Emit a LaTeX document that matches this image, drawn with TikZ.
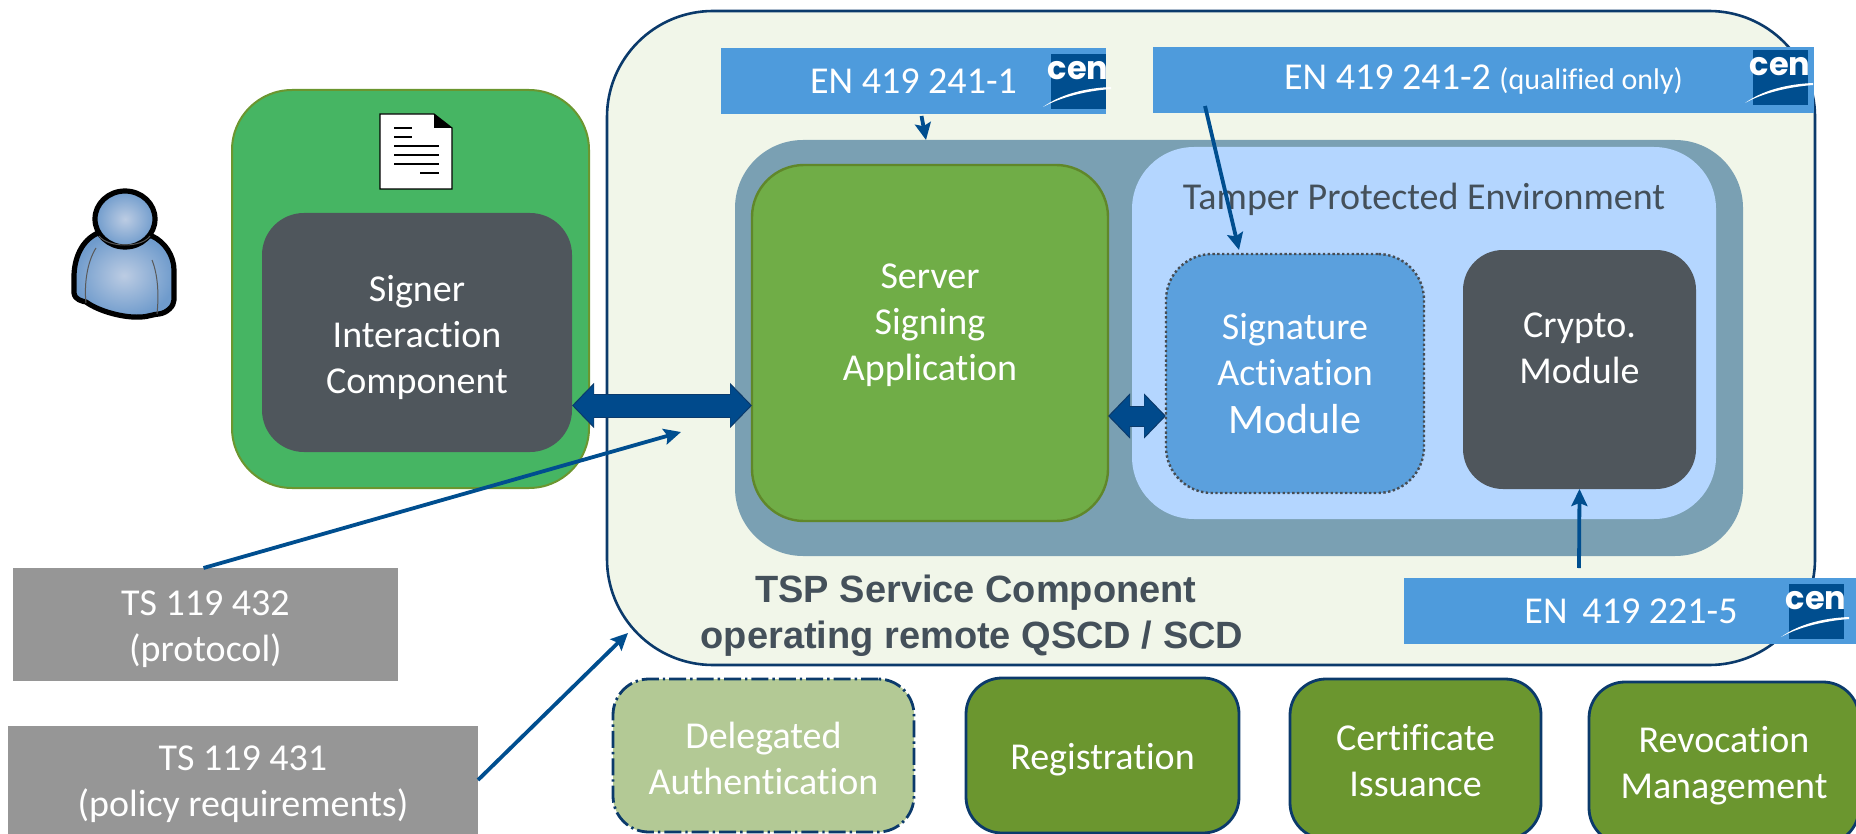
\documentclass[tikz,border=0pt]{standalone}
\usepackage{fontspec}
\setmainfont{Carlito}[RawFeature={-liga;-clig;-dlig}]
\newfontfamily\arialfont{Liberation Sans}
\newfontfamily\logofont{Poppins}
\usepackage{xcolor}
\usepackage{tikz}
\usetikzlibrary{shapes,arrows.meta,positioning}

\definecolor{navy}{HTML}{0B3A6B}
\definecolor{arrowblue}{HTML}{004E8F}
\definecolor{blockblue}{HTML}{004A8C}
\definecolor{cardblue}{HTML}{4E9BDC}
\definecolor{modblue}{HTML}{5BA0DD}
\definecolor{tampblue}{HTML}{B4D6FF}
\definecolor{slate}{HTML}{7AA0B3}
\definecolor{darkbox}{HTML}{4F565C}
\definecolor{labelgrey}{HTML}{44505A}
\definecolor{olive}{HTML}{6B962F}
\definecolor{paleolive}{HTML}{B3C995}
\definecolor{appgreen}{HTML}{70AD47}
\definecolor{sicgreen}{HTML}{46B563}
\definecolor{paper}{HTML}{F1F6E9}
\definecolor{specgrey}{HTML}{969696}
\definecolor{headin}{HTML}{BCCCE3}
\definecolor{headout}{HTML}{6F9BCC}

\begin{document}
\begin{tikzpicture}[
    x=0.5pt, y=-0.5pt,
    box/.style={rounded corners=#1, align=center, inner sep=0pt, outer sep=0pt, text=white,
        font=\fontsize{19}{23}\selectfont},
    box/.default=20pt,
    service/.style={box=18pt, draw=navy, line width=1.4pt, fill=olive},
    card/.style={align=center, inner sep=0pt, outer sep=0pt, fill=cardblue, text=white, minimum height=33pt,
        font=\fontsize{19}{23}\selectfont},
    spec/.style={align=center, inner sep=0pt, outer sep=0pt, fill=specgrey, text=white,
        font=\fontsize{19}{23}\selectfont},
    arrow/.style={-{Stealth[length=8.5pt,width=8pt,inset=1.5pt]}, line width=1.9pt, arrowblue},
    bigarrow/.style={{Triangle[length=10pt,width=20pt]}-{Triangle[length=10pt,width=20pt]}, blockblue,
        shorten <=0.8pt, shorten >=0.8pt, line width=#1,
        preaction={draw, navy, line width=#1+1pt, shorten <=0pt, shorten >=0pt,
            {Triangle[length=11pt,width=22pt]}-{Triangle[length=11pt,width=22pt]}}},
    cenlogo/.pic={
        \fill[arrowblue] (0,0) rectangle (55,55);
        \node[inner sep=0pt, text=white, font=\logofont\bfseries\fontsize{16}{16}\selectfont] (-text) at (27,17) {cen};
        \fill[white] (-8,53) .. controls (10,40) and (35,34) .. (60,33) -- (60,35) .. controls (35,37) and (10,43) .. (-8,53);
    },
]
    \path[use as bounding box, clip] (0,0) rectangle (1856,834);

    % Service component
    \node[box=53pt, draw=navy, line width=1.3pt, fill=paper, minimum width=604pt, minimum height=327pt] (tsp) at (1211,338) {};
    \node[align=center, inner sep=0pt, text=labelgrey, font=\arialfont\bfseries\fontsize{19}{23}\selectfont] (tsplabel) at (972,615.5) {\hspace*{4pt}TSP Service Component\\operating remote QSCD / SCD};

    % Inner panels
    \node[box=34pt, fill=slate, minimum width=504pt, minimum height=208pt] (panel) at (1239,348) {};
    \node[box=26pt, draw=olive!90!black, line width=1.2pt, fill=appgreen, minimum width=178pt, minimum height=178pt] (ssa) at (930,343) {\rule{0pt}{14.7pt}Server\\Signing\\Application\\~};
    \node[box=31pt, fill=tampblue, minimum width=292pt, minimum height=186pt] (tpe) at (1424,333) {};
    \node[below=18pt of tpe.north, inner sep=0pt, text=labelgrey, font=\fontsize{19}{23}\selectfont] (tpelabel) {Tamper Protected Environment};
    \node[box=23pt, draw=darkbox!90!black, dash pattern=on 1.2pt off 1.2pt, line width=1.2pt, fill=modblue, minimum width=129pt, minimum height=119.5pt] (sam) at (1295,373.5) {Signature\\Activation\\[1pt]{\fontsize{21}{25}\selectfont Module}};
    \node[box=20pt, fill=darkbox, minimum width=116.5pt, minimum height=119.5pt] (crypto) at (1579.5,369.5) {\rule{0pt}{14pt}Crypto.\\Module\\~};

    % Signer side
    \node[box=30pt, draw=olive, line width=1pt, fill=sicgreen, minimum width=178.5pt, minimum height=199pt] (sic) at (410.5,289) {};
    \node[box=21pt, fill=darkbox, minimum width=155pt, minimum height=119.5pt] (signer) at (417,332.5) {\rule{0pt}{17.7pt}Signer\\Interaction\\Component};

    % Document icon
    \draw[black, fill=white, line width=0.6pt] (380,114) -- (434,114) -- (452,128) -- (452,189) -- (380,189) -- cycle;
    \fill[black] (434,114) -- (452,128) -- (434,128) -- cycle;
    \draw[black, line width=0.8pt] (394,128) -- (412,128) (394,137) -- (412,137) (394,146) -- (439,146) (394,155) -- (439,155) (394,164) -- (439,164) (420,173) -- (439,173);

    % Person
    \draw[black, line width=2.6pt, inner color=headin, outer color=headout] (98,233)
        .. controls (82,240) and (74,258) .. (74,277) -- (74,293) .. controls (75,300) and (82,301) .. (86,302)
        .. controls (100,312) and (125,318) .. (140,317) .. controls (148,317) and (154,314) .. (159,314)
        .. controls (167,313) and (174,306) .. (174,300) -- (174,270) .. controls (174,256) and (165,242) .. (152,236) -- cycle;
    \draw[black, line width=2.6pt, inner color=headin, outer color=headout] (125,219) ellipse [x radius=30, y radius=28];
    \draw[black!65, line width=0.5pt] (99,236) .. controls (108,248) and (142,248) .. (150,236) (96,248) .. controls (87,262) and (84,285) .. (86,303) (152,260) .. controls (158,275) and (159,295) .. (157,314);

    % Standards cards
    \node[card, minimum width=192.5pt] (en1) at (913.5,81) {EN 419 241-1};
    \node[card, right=23.5pt of en1, yshift=0.5pt, minimum width=330.5pt] (en2) {EN 419 241-2 {\fontsize{15}{18}\selectfont (qualified only)}};
    \node[card, minimum width=240pt] (en3) at (1644,611) {EN\, 419 221-5\hspace{13pt}};
    \pic (logo1) at (1051,54) {cenlogo};
    \pic (logo2) at (1753,50) {cenlogo};
    \pic (logo3) at (1789,584) {cenlogo};

    % Specs
    \node[spec, minimum width=192.5pt, minimum height=56.5pt] (ts432) at (205.5,624.5) {\rule{0pt}{16.8pt}TS 119 432\\(protocol)};
    \node[spec, minimum width=235pt, minimum height=54pt] (ts431) at (243,780) {\rule{0pt}{16.8pt}TS 119 431\\(policy requirements)};

    % Services
    \node[service, dash pattern=on 8.5pt off 2pt on 1.2pt off 2pt, fill=paleolive, minimum width=150.5pt, minimum height=76.5pt] (deleg) at (763.5,755.5) {\rule{0pt}{16.1pt}Delegated\\Authentication};
    \node[service, right=26pt of deleg, minimum width=136.5pt, minimum height=77.5pt] (regist) {\rule{0pt}{17.7pt}Registration};
    \node[service, right=25.5pt of regist, yshift=-1.75pt, minimum width=125.5pt, minimum height=80pt] (cert) {\rule{0pt}{14.9pt}Certificate\\Issuance};
    \node[service, right=24pt of cert, yshift=-2pt, minimum width=135pt, minimum height=81pt] (revoc) {\rule{0pt}{16pt}Revocation\\Management};

    % Arrows
    \coordinate (ts432end) at (681,432);
    \coordinate (ts431end) at (628,633);
    \draw[arrow] ([xshift=-1pt]ts432.north) -- (ts432end);
    \draw[arrow] (ts431.east) -- (ts431end);
    \draw[arrow] ([xshift=4pt,yshift=-1pt]en1.south) -- ([xshift=-156.5pt]panel.north);
    \draw[arrow] ([xshift=26pt,yshift=3.5pt]en2.south west) -- ([xshift=-28pt,yshift=2pt]sam.north);
    \draw[arrow] ([xshift=-32.5pt,yshift=5pt]en3.north) -- (crypto.south);

    % Block arrows
    \draw[bigarrow=11pt] ([yshift=-36.5pt]signer.east) -- ([yshift=-31.25pt]ssa.west);
    \draw[bigarrow=9.5pt] ([yshift=-36.5pt]ssa.east) -- ([yshift=-21.25pt]sam.west);
\end{tikzpicture}
\end{document}
